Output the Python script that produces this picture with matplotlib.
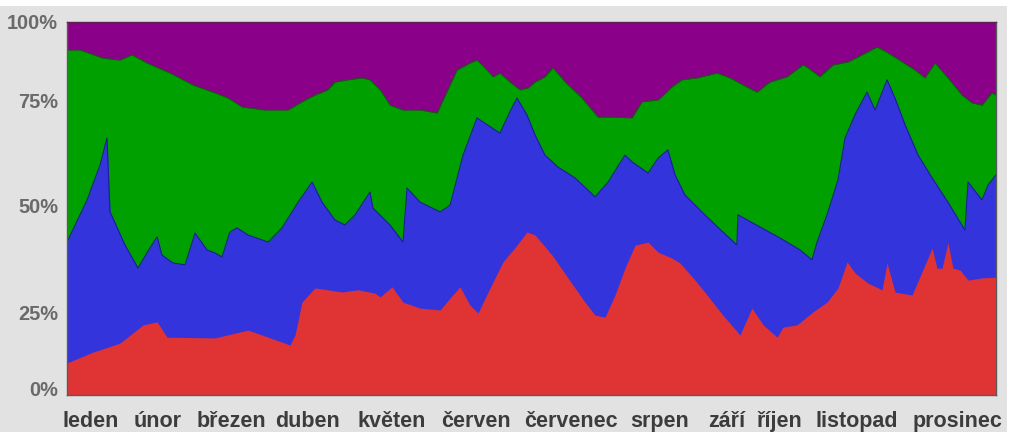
import matplotlib
matplotlib.use("Agg")
import matplotlib.pyplot as plt
from matplotlib.patches import Rectangle

# ---- data (cumulative shares in %) ----
months = ["leden", "únor", "březen", "duben", "květen", "červen",
          "červenec", "srpen", "září", "říjen", "listopad", "prosinec"]
y_labels = ["0%", "25%", "50%", "75%", "100%"]

# red layer (bottom): top edge
red_day = [0.0, 10.2, 20.8, 29.9, 35.4, 39.3, 58.1, 71.1, 79.0, 87.6, 89.6, 92.3,
           97.4, 102.5, 108.0, 114.3, 121.0, 123.0, 127.7, 132.0, 138.7, 146.6,
           150.5, 154.4, 158.3, 161.5, 166.2, 171.3, 176.8, 180.7, 183.9, 190.6,
           196.8, 203.5, 207.5, 211.4, 215.3, 219.2, 223.2, 228.3, 232.2, 237.7,
           240.8, 246.0, 251.5, 257.7, 264.4, 269.1, 273.5, 279.0, 281.3, 286.8,
           293.1, 298.6, 302.9, 306.5, 309.6, 314.7, 320.2, 322.2, 325.3, 332.0,
           335.9, 339.9, 341.8, 343.8, 346.1, 348.1, 350.9, 354.0, 359.5, 365.0]
red_top = [8.6, 11.5, 13.9, 18.8, 19.6, 15.5, 15.3, 17.4, 15.5, 13.4, 16.1, 24.9,
           28.7, 28.2, 27.6, 28.2, 27.3, 26.3, 29.0, 24.9, 23.3, 22.8,
           26.0, 29.0, 24.1, 22.0, 28.7, 35.7, 40.2, 43.7, 42.9, 37.5,
           31.4, 24.9, 21.4, 20.9, 26.8, 34.0, 40.2, 41.0, 38.3, 36.7,
           35.4, 31.4, 26.8, 21.4, 16.1, 23.3, 18.8, 15.5, 18.2, 18.8,
           22.3, 24.9, 28.7, 35.7, 32.7, 30.0, 28.2, 35.4, 27.6, 26.8,
           33.0, 39.4, 34.0, 34.0, 40.8, 34.0, 33.5, 30.8, 31.4, 31.6]

# red + blue: top edge of blue layer
blue_day = [0.0, 7.9, 13.0, 15.7, 16.9, 22.8, 27.9, 31.4, 35.4, 37.3, 41.6, 46.4,
            50.3, 55.0, 58.1, 60.9, 64.0, 66.8, 71.1, 79.0, 84.5, 90.8, 96.3,
            100.2, 105.3, 109.2, 113.2, 119.0, 120.2, 126.9, 132.0, 133.6, 138.7,
            146.6, 150.5, 155.6, 161.1, 163.4, 170.1, 174.0, 176.8, 180.7, 183.9,
            187.8, 192.9, 199.6, 207.5, 212.6, 219.2, 222.0, 228.3, 232.2, 236.1,
            238.9, 242.8, 251.5, 257.7, 263.2, 263.6, 269.5, 280.1, 288.0, 292.7,
            294.7, 298.6, 302.9, 305.7, 309.6, 314.3, 317.5, 322.2, 325.3, 329.3,
            334.4, 339.9, 346.1, 352.8, 354.0, 359.5, 361.9, 365.0]
blue_top = [41.0, 52.3, 61.7, 68.9, 49.1, 40.2, 34.0, 38.1, 42.4, 37.5, 35.4, 34.9,
            43.4, 38.9, 38.1, 37.0, 43.7, 44.8, 42.9, 41.0, 44.8, 51.7, 57.1,
            51.7, 46.9, 45.6, 48.3, 54.4, 50.1, 45.6, 41.0, 55.5, 51.7,
            49.1, 50.9, 64.3, 74.3, 73.2, 70.2, 75.9, 79.6, 75.1, 69.7,
            64.3, 61.1, 58.2, 53.1, 57.1, 64.3, 62.5, 59.5, 63.5, 65.7,
            59.0, 53.6, 47.7, 43.7, 40.2, 48.3, 46.1, 42.1, 38.9, 36.2,
            41.0, 48.3, 57.6, 68.9, 75.1, 81.2, 76.4, 84.5, 79.6, 72.4,
            64.3, 58.2, 51.7, 44.2, 57.1, 52.3, 56.3, 59.0]

# red + blue + green: top edge of green layer (purple fills the rest to 100 %)
green_day = [0.0, 5.1, 14.1, 20.8, 25.5, 31.4, 40.5, 49.5, 58.1, 63.3, 68.8, 77.8,
             86.8, 92.3, 97.4, 102.5, 105.3, 110.4, 115.9, 119.0, 123.0, 126.9,
             132.0, 138.7, 145.4, 150.5, 153.2, 158.3, 161.1, 164.2, 167.4, 170.1,
             174.0, 178.0, 181.1, 183.9, 187.8, 190.9, 195.7, 202.3, 208.6, 214.1,
             222.0, 225.9, 232.2, 237.7, 241.6, 247.5, 255.4, 260.5, 265.6, 271.1,
             276.2, 282.9, 289.2, 291.1, 295.8, 301.0, 306.9, 312.4, 318.3, 322.6,
             328.1, 333.2, 337.1, 341.0, 346.1, 351.6, 355.6, 359.5, 363.4, 365.0]
green_top = [92.5, 92.5, 90.3, 89.8, 91.2, 89.0, 86.3, 83.1, 81.0, 79.6, 77.2, 76.4,
             76.4, 78.6, 80.4, 81.8, 83.9, 84.5, 85.0, 84.5, 81.8, 77.7,
             76.4, 76.4, 75.6, 83.1, 87.1, 89.0, 89.8, 87.7, 85.3, 86.3,
             83.9, 81.8, 82.3, 83.9, 85.3, 87.7, 83.9, 79.6, 74.5, 74.5,
             74.3, 78.6, 79.1, 82.6, 84.5, 85.0, 86.3, 85.0, 83.1, 81.2,
             83.9, 85.3, 88.5, 87.7, 85.3, 88.5, 89.3, 91.2, 93.3, 91.7,
             89.3, 87.1, 85.0, 89.0, 85.0, 80.4, 78.3, 77.7, 81.0, 80.4]

# ---- style ----
C_RED = "#e03333"
C_BLUE = "#3434dc"
C_GREEN = "#00a000"
C_PURPLE = "#8b0088"
BG = "#e2e2e2"

fig = plt.figure(figsize=(10.12, 4.32), dpi=100, facecolor="white")
fig.patches.append(Rectangle((0, 0), 1007 / 1012, 1 - 6 / 432, transform=fig.transFigure,
                             facecolor=BG, edgecolor="none", zorder=-10))
ax = fig.add_axes([67 / 1012, 1 - 395 / 432, 929 / 1012, 373 / 432])

x0, x1 = red_day[0], red_day[-1]
ax.fill_between([x0, x1], 0, 100, color=C_PURPLE, linewidth=0)
ax.fill_between(green_day, 0, green_top, color=C_GREEN, linewidth=0)
ax.plot(green_day, green_top, color="#006a00", linewidth=0.6)
ax.fill_between(blue_day, 0, blue_top, color=C_BLUE, linewidth=0)
ax.plot(blue_day, blue_top, color="#1c1c9a", linewidth=0.8)
ax.fill_between(red_day, 0, red_top, color=C_RED, linewidth=0)

ax.set_xlim(x0, x1)
ax.set_ylim(0, 100)
ax.set_xticks([])
ax.set_yticks([])
for s in ax.spines.values():
    s.set_color("#5a5a5a")
    s.set_linewidth(1.0)
ax.spines["top"].set_color("#5a2050")

# y labels (positions as in the reference)
y_pos = [0.011, 0.217, 0.504, 0.783, 0.997]
for lab, yp in zip(y_labels, y_pos):
    ax.text(-9 / 929, yp, lab, transform=ax.transAxes, ha="right", va="center",
            fontsize=14.4, fontweight="bold", color="#6a6a6a", family="Liberation Sans")

# month labels
x_pos = [0.0258, 0.098, 0.1765, 0.2594, 0.3498, 0.4403, 0.5425, 0.6383,
         0.7104, 0.7664, 0.8504, 0.9591]
for lab, xp in zip(months, x_pos):
    ax.text(xp, -0.0858, lab, transform=ax.transAxes, ha="center", va="baseline",
            fontsize=15.5, fontweight="bold", color="#3c3c3c", family="Liberation Sans")

fig.savefig("out.png", dpi=100, facecolor=fig.get_facecolor())
